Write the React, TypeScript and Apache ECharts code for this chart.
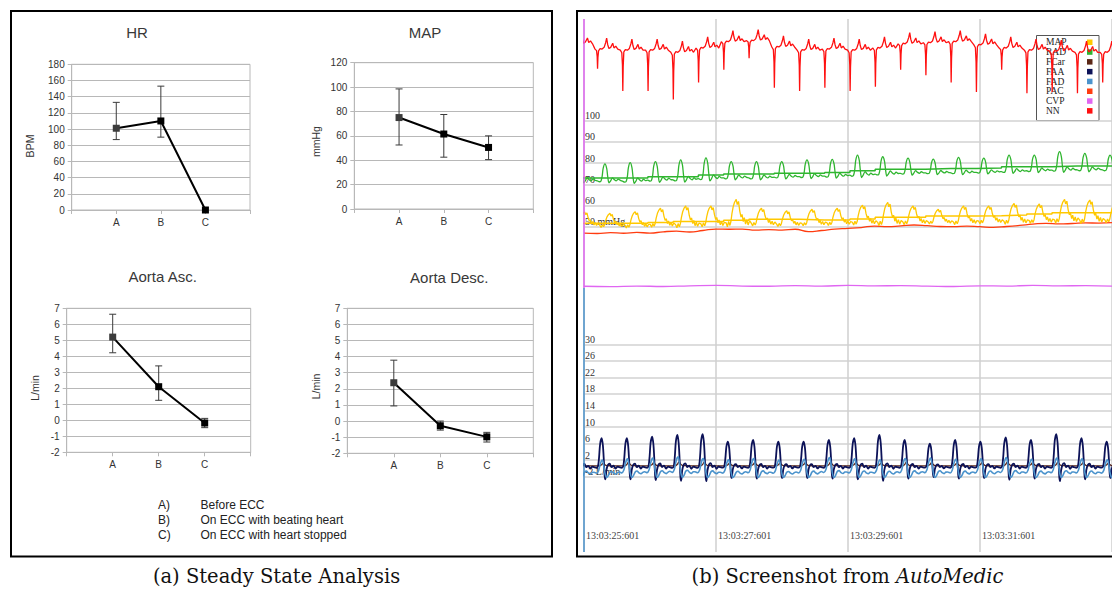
import { useEffect, useRef } from 'react';
import * as echarts from 'echarts';

// ---------- Steady state analysis (left panel) ----------
const CONDITIONS = ['A', 'B', 'C'];
const CONDITION_TEXT = ['Before ECC', 'On ECC with beating heart', 'On ECC with heart stopped'];

const HR_MEAN = [101, 110, 0];
const HR_LOW = [87, 90, 0];
const HR_HIGH = [133, 153, 0];

const MAP_SS_MEAN = [75, 61.5, 50.5];
const MAP_SS_LOW = [52.5, 42.5, 40.5];
const MAP_SS_HIGH = [98.5, 77.5, 60];

const ASC_MEAN = [5.2, 2.1, -0.17];
const ASC_LOW = [4.22, 1.25, -0.46];
const ASC_HIGH = [6.63, 3.4, 0.12];

const DESC_MEAN = [2.38, -0.29, -0.98];
const DESC_LOW = [0.94, -0.56, -1.3];
const DESC_HIGH = [3.78, 0.0, -0.7];

// ---------- AutoMedic monitor (right panel) ----------
const CLOCK_PREFIX = '13:03:';
const CLOCK_START_SEC = 25;
const CLOCK_MS = '601';
const BEAT = 0.3827; // seconds per cardiac cycle

const TRACE_NAMES = ['MAP', 'RAD', 'FCar', 'FAA', 'FAD', 'PAC', 'CVP', 'NN'];
const TRACE_COLORS: Record<string, string> = {
  MAP: '#ffc800',
  RAD: '#2fb52f',
  FCar: '#5a2616',
  FAA: '#0c1258',
  FAD: '#4b93cc',
  PAC: '#ff3c10',
  CVP: '#e066f2',
  NN: '#ff1010',
};

// NN (ECG derived): start of first cycle, baseline, R-dip depth per cycle
const NN_START = -0.2156;
const NN_BASE = [136, 133.5, 133, 133, 132, 134, 137, 137.5, 134.5, 133, 133.5, 133, 134, 136, 136.5, 137, 135.5, 134, 133, 132.5, 132, 132];
const NN_DEPTH = [19, 9, 19, 19, 22, 16, 13, 8, 19, 19, 18, 19, 18, 12, 15, 19, 22, 10, 20, 19, 19, 14];
const NN_WAVE_HEIGHT = 5.5;
// [phase, dip component, wave component]
const NN_SHAPE: [number, number, number][] = [
  [0.0, 0, 0.05], [0.06, -0.05, 0], [0.085, -0.35, 0], [0.1, -1, 0], [0.115, -0.4, 0],
  [0.14, 0, -0.1], [0.2, 0, 0.1], [0.28, 0, 0.05], [0.36, 0, 0.2], [0.42, 0, 0.6],
  [0.46, 0, 1], [0.5, 0, 0.45], [0.55, 0, 0.1], [0.62, 0, 0.2], [0.7, 0, 0.55],
  [0.75, 0, 0.15], [0.82, 0, 0.3], [0.9, 0, 0.05],
];

// RAD (radial artery pressure, mmHg)
const RAD_START = -0.1805;
const RAD_PEAK = [80.0, 79.6, 80.2, 80.7, 81.5, 82.5, 80.7, 80.7, 80.7, 81.5, 81.8, 83.8, 83.0, 82.3, 81.9, 82.7, 82.3, 83.8, 83.8, 85.4, 84.6, 83.8];
const RAD_TROUGH = [71.2, 71.2, 71.0, 71.5, 71.6, 72.2, 72.6, 72.6, 73.0, 73.2, 73.4, 73.8, 74.4, 74.8, 75.0, 75.0, 75.3, 75.6, 76.0, 76.2, 76.4, 76.4];
const RAD_MEAN = [73.0, 73.0, 73.0, 73.6, 73.6, 74.4, 74.8, 74.8, 75.2, 75.2, 75.6, 76.4, 77.1, 77.1, 77.4, 77.4, 77.7, 78.3, 78.3, 78.6, 78.6, 78.6];
const RAD_SHAPE: [number, number][] = [
  [0, 0.05], [0.08, 0], [0.14, 0.03], [0.19, 0.3], [0.23, 0.75], [0.3, 1], [0.37, 0.75],
  [0.41, 0.3], [0.46, -0.06], [0.52, 0.04], [0.6, 0.22], [0.67, 0.12], [0.75, 0.05],
  [0.83, 0.15], [0.91, 0.08],
];

// MAP (mmHg)
const MAP_START = -0.1428;
const MAP_PEAK = [57.0, 56.3, 57.1, 58.7, 59.8, 59.8, 62.9, 58.7, 57.5, 58.2, 58.7, 60.2, 61.5, 59.8, 58.2, 59.8, 59.8, 61.0, 60.7, 62.9, 62.6, 61.0];
const MAP_TROUGH = [50.5, 50.0, 49.8, 50.2, 50.0, 50.4, 50.6, 50.8, 50.5, 50.8, 51.0, 51.2, 51.0, 51.4, 51.6, 51.4, 51.8, 51.6, 52.0, 52.2, 52.0, 52.3];
const MAP_MEAN = [51.6, 51.6, 51.6, 52.0, 52.4, 52.4, 53.0, 53.5, 53.5, 53.2, 53.2, 53.6, 54.4, 54.4, 55.0, 55.0, 55.2, 55.5, 56.0, 56.6, 56.6, 56.6];
const MAP_SHAPE: [number, number][] = [
  [0, 0.1], [0.05, -0.05], [0.1, 0.15], [0.15, 0], [0.19, 0.15], [0.23, 0.45], [0.28, 0.72],
  [0.33, 0.88], [0.4, 1], [0.44, 0.8], [0.49, 0.92], [0.54, 0.55], [0.59, 0.32], [0.63, 0.42],
  [0.68, 0.15], [0.72, 0.3], [0.77, 0.05], [0.82, 0.22], [0.87, 0.02], [0.93, 0.18],
];

// PAC (mmHg), sampled every 0.2 s
const PAC_STEP = 0.2;
const PAC = [47.0, 46.8, 47.2, 46.9, 47.3, 47.0, 47.6, 47.9, 47.5, 48.2, 48.9, 48.8, 48.9, 48.4, 48.6, 48.4, 48.8, 47.7, 48.2, 48.9, 49.2, 49.6, 50.3, 50.0, 50.4, 50.8, 50.5, 50.1, 50.0, 50.3, 50.0, 49.7, 50.1, 50.6, 51.2, 51.6, 51.3, 51.5, 51.8, 51.7, 51.9];

// CVP, sampled every 0.4 s
const CVP_STEP = 0.4;
const CVP = [21.9, 21.7, 22.0, 21.8, 22.1, 22.3, 22.0, 21.9, 22.2, 22.0, 22.3, 22.1, 22.2, 22.0, 21.8, 22.1, 22.0, 22.3, 22.1, 22.2, 22.0];

// Flows (L/min)
const FLOW_START = -0.2305;
const FAA_BASE = 0.3;
const FAA_PEAK = [7.0, 7.3, 7.3, 7.7, 8.1, 8.3, 6.5, 6.9, 6.5, 6.5, 6.9, 7.3, 8.1, 6.9, 6.0, 6.9, 6.5, 7.5, 6.9, 8.3, 7.3, 6.5];
const FAA_SHAPE: [number, number][] = [
  [0, 0], [0.1, -0.02], [0.16, 0.05], [0.2, 0.35], [0.24, 0.8], [0.3, 1], [0.35, 0.75],
  [0.39, 0.2], [0.42, -0.3], [0.45, -0.42], [0.49, -0.1], [0.55, 0.08], [0.62, 0.12],
  [0.69, 0], [0.77, 0.05], [0.85, -0.05], [0.93, 0.02],
];
const FAD_TROUGH = -2.2;
const FAD_PEAK = [2.2, 2.0, 2.3, 2.5, 2.8, 2.4, 2.1, 2.4, 2.0, 2.2, 2.6, 2.3, 2.1, 2.4, 2.5, 2.2, 2.3, 2.6, 2.2, 2.5, 2.3, 2.1];
const FAD_SHAPE: [number, number][] = [
  [0, 0.3], [0.1, 0.25], [0.18, 0.4], [0.24, 0.75], [0.29, 0.95], [0.33, 1], [0.38, 0.7],
  [0.44, 0.2], [0.5, 0], [0.56, 0.1], [0.63, 0.3], [0.7, 0.35], [0.78, 0.25], [0.86, 0.2],
  [0.93, 0.28],
];
const FCAR_BASE = 0.6;
const FCAR_PEAK = [1.4, 1.3, 1.5, 1.4, 1.6, 1.5, 1.3, 1.4, 1.3, 1.4, 1.5, 1.4, 1.3, 1.5, 1.4, 1.3, 1.4, 1.6, 1.4, 1.5, 1.4, 1.3];
const FCAR_SHAPE: [number, number][] = [
  [0, 0], [0.2, 0], [0.3, 0.4], [0.36, 1], [0.42, 0.5], [0.5, 0.1], [0.7, 0.05], [0.85, 0],
];

type Pt = [number, number];

function buildWave(start: number, shape: [number, number][], bases: number | number[], peaks: number[]): Pt[] {
  const pts: Pt[] = [];
  const baseAt = (k: number) => (Array.isArray(bases) ? bases[k] : bases);
  peaks.forEach((peak, k) => {
    const s = start + k * BEAT;
    const b = baseAt(k);
    shape.forEach(([ph, v]) => pts.push([s + ph * BEAT, b + (peak - b) * v]));
  });
  const last = peaks.length - 1;
  pts.push([start + peaks.length * BEAT, baseAt(last) + (peaks[last] - baseAt(last)) * shape[0][1]]);
  return pts;
}

function buildEcg(): Pt[] {
  const pts: Pt[] = [];
  NN_DEPTH.forEach((depth, k) => {
    const s = NN_START + k * BEAT;
    NN_SHAPE.forEach(([ph, dip, wave]) => pts.push([s + ph * BEAT, NN_BASE[k] + depth * dip + NN_WAVE_HEIGHT * wave]));
  });
  pts.push([NN_START + NN_DEPTH.length * BEAT, NN_BASE[NN_BASE.length - 1]]);
  return pts;
}

function buildSteps(start: number, values: number[]): Pt[] {
  const pts: Pt[] = [];
  values.forEach((v, k) => {
    pts.push([start + k * BEAT, v], [start + (k + 1) * BEAT, v]);
  });
  return pts;
}

const sampled = (values: number[], step: number): Pt[] => values.map((v, i) => [i * step, v]);

const SANS = "'Liberation Sans', Arial, sans-serif";
const SERIF = "'Liberation Serif', 'DejaVu Serif', serif";
const CAPTION_FONT = "'DejaVu Serif', serif";
const GRID_GREY = '#b8b8b8';

interface Panel {
  title: string;
  unit: string;
  mean: number[];
  low: number[];
  high: number[];
  min: number;
  max: number;
  step: number;
  grid: { left: number; top: number; width: number; height: number };
  titleAt: [number, number];
  unitAt: [number, number];
}

const PANELS: Panel[] = [
  { title: 'HR', unit: 'BPM', mean: HR_MEAN, low: HR_LOW, high: HR_HIGH, min: 0, max: 180, step: 20,
    grid: { left: 71.7, top: 64.3, width: 178.3, height: 145.7 }, titleAt: [137, 32], unitAt: [30, 146] },
  { title: 'MAP', unit: 'mmHg', mean: MAP_SS_MEAN, low: MAP_SS_LOW, high: MAP_SS_HIGH, min: 0, max: 120, step: 20,
    grid: { left: 354.3, top: 62.7, width: 179, height: 146.3 }, titleAt: [425, 32], unitAt: [316, 141.5] },
  { title: 'Aorta Asc.', unit: 'L/min', mean: ASC_MEAN, low: ASC_LOW, high: ASC_HIGH, min: -2, max: 7, step: 1,
    grid: { left: 66.7, top: 308.3, width: 184, height: 144 }, titleAt: [162.7, 276.5], unitAt: [35, 388] },
  { title: 'Aorta Desc.', unit: 'L/min', mean: DESC_MEAN, low: DESC_LOW, high: DESC_HIGH, min: -2, max: 7, step: 1,
    grid: { left: 347.3, top: 308.3, width: 186, height: 145 }, titleAt: [449.3, 277.5], unitAt: [316, 386.5] },
];

// Monitor layout: pressure scale 2.12 px/mmHg, flow scale 4.1375 px/(L/min)
const MON_LEFT = 584;
const MON_WIDTH = 529.6;
const MON_T_MAX = 8;

function buildOption(): echarts.EChartsCoreOption {
  const grid: any[] = [];
  const xAxis: any[] = [];
  const yAxis: any[] = [];
  const series: any[] = [];
  const graphic: any[] = [];

  PANELS.forEach((p, i) => {
    grid.push({ ...p.grid, show: true, borderColor: GRID_GREY, borderWidth: 1, backgroundColor: 'transparent' });
    xAxis.push({
      gridIndex: i, type: 'value', min: 0, max: CONDITIONS.length + 1, interval: 1,
      axisLine: { onZero: false, lineStyle: { color: GRID_GREY } },
      axisTick: { show: true, length: 4, lineStyle: { color: GRID_GREY } },
      axisLabel: { formatter: (v: number) => CONDITIONS[v - 1] ?? '', color: '#333', fontSize: 10, fontFamily: SANS, margin: 7 },
      splitLine: { show: false },
    });
    yAxis.push({
      gridIndex: i, type: 'value', min: p.min, max: p.max, interval: p.step,
      axisLine: { show: true, lineStyle: { color: GRID_GREY } },
      axisTick: { show: true, length: 4, lineStyle: { color: GRID_GREY } },
      axisLabel: { color: '#333', fontSize: 10, fontFamily: SANS, margin: 7 },
      splitLine: { show: true, lineStyle: { color: GRID_GREY, width: 1 } },
    });
    series.push({
      type: 'custom', xAxisIndex: i, yAxisIndex: i, z: 2,
      data: CONDITIONS.map((_, j) => [j + 1, p.low[j], p.high[j]]),
      encode: { x: 0, y: [1, 2] },
      renderItem: (_params: any, api: any) => {
        const x = api.value(0);
        const lo = api.coord([x, api.value(1)]);
        const hi = api.coord([x, api.value(2)]);
        if (Math.abs(lo[1] - hi[1]) < 0.5) return { type: 'group', children: [] };
        const w = 3.5;
        const st = { stroke: '#3a3a3a', lineWidth: 1 };
        return {
          type: 'group',
          children: [
            { type: 'line', shape: { x1: lo[0], y1: lo[1], x2: hi[0], y2: hi[1] }, style: st },
            { type: 'line', shape: { x1: lo[0] - w, y1: lo[1], x2: lo[0] + w, y2: lo[1] }, style: st },
            { type: 'line', shape: { x1: hi[0] - w, y1: hi[1], x2: hi[0] + w, y2: hi[1] }, style: st },
          ],
        };
      },
    });
    series.push({
      type: 'line', name: p.title, xAxisIndex: i, yAxisIndex: i, z: 3,
      data: p.mean.map((v, j) => ({ value: [j + 1, v], itemStyle: { color: j === 0 ? '#3c3c3c' : '#000' } })),
      symbol: 'rect', symbolSize: 7, showSymbol: true,
      lineStyle: { color: '#000', width: 2 },
      itemStyle: { color: '#000' },
    });
    graphic.push({
      type: 'text', x: p.titleAt[0], y: p.titleAt[1],
      style: { text: p.title, fontSize: 15, fontFamily: SANS, fill: '#383838', textAlign: 'center', textVerticalAlign: 'middle' },
    });
    graphic.push({
      type: 'text', x: p.unitAt[0], y: p.unitAt[1], rotation: Math.PI / 2,
      style: { text: p.unit, fontSize: 10.5, fontFamily: SANS, fill: '#333', textAlign: 'center', textVerticalAlign: 'middle' },
    });
  });

  // Condition key
  CONDITIONS.forEach((c, j) => {
    const y = 504.5 + j * 15.2;
    graphic.push({ type: 'text', x: 158, y, style: { text: c + ')', fontSize: 12, fontFamily: SANS, fill: '#222', textVerticalAlign: 'middle' } });
    graphic.push({ type: 'text', x: 200.5, y, style: { text: CONDITION_TEXT[j], fontSize: 12, fontFamily: SANS, fill: '#222', textVerticalAlign: 'middle' } });
  });

  // ---- Monitor grids ----
  const mon = (top: number, height: number) => ({ left: MON_LEFT, width: MON_WIDTH, top, height });
  const G_FRAME = grid.length; grid.push(mon(19, 533));
  const G_P = grid.length; grid.push(mon(120.7 - 48 * 2.12, 148 * 2.12));
  const G_PG = grid.length; grid.push(mon(120.7, 106));
  const G_F = grid.length; grid.push(mon(344.3, 40 * 4.1375));
  const G_FG = grid.length; grid.push(mon(344.3, 132.4));

  const hiddenX = (g: number) => ({ gridIndex: g, type: 'value', min: 0, max: MON_T_MAX, show: false });
  xAxis.push({
    gridIndex: G_FRAME, type: 'value', min: 0, max: MON_T_MAX, interval: 2,
    axisLine: { show: false }, axisTick: { show: false },
    axisLabel: {
      inside: true, align: 'left', verticalAlign: 'bottom', margin: 12, padding: [0, 0, 0, 2],
      fontSize: 10, fontFamily: SERIF, color: '#444', showMaxLabel: false,
      formatter: (v: number) => (v >= MON_T_MAX ? '' : `${CLOCK_PREFIX}${CLOCK_START_SEC + v}:${CLOCK_MS}`),
    },
    splitLine: { show: true, lineStyle: { color: '#cfcfcf', width: 1.5 } },
  });
  xAxis.push(hiddenX(G_P), hiddenX(G_PG), hiddenX(G_F), hiddenX(G_FG));

  const monLabel = {
    inside: true, align: 'left', verticalAlign: 'bottom', margin: 1,
    fontSize: 10, fontFamily: SERIF, color: '#333',
  };
  yAxis.push({ gridIndex: G_FRAME, type: 'value', min: 0, max: 1, show: false });
  yAxis.push({ gridIndex: G_P, type: 'value', min: 0, max: 148, show: false });
  yAxis.push({
    gridIndex: G_PG, type: 'value', min: 50, max: 100, interval: 10,
    axisLine: { show: false }, axisTick: { show: false },
    axisLabel: { ...monLabel, formatter: (v: number) => (v === 50 ? '50 mmHg' : String(v)) },
    splitLine: { show: true, lineStyle: { color: '#d2d2d2', width: 1.5 } },
  });
  yAxis.push({ gridIndex: G_F, type: 'value', min: -10, max: 30, show: false });
  yAxis.push({
    gridIndex: G_FG, type: 'value', min: -2, max: 30, interval: 4,
    axisLine: { show: false }, axisTick: { show: false },
    axisLabel: { ...monLabel, formatter: (v: number) => (v === -2 ? '-2 L/min' : String(v)) },
    splitLine: { show: true, lineStyle: { color: '#d2d2d2', width: 1.5 } },
  });

  const trace = (name: string, g: number, data: Pt[], width = 1.3, smooth: number | boolean = false, z = 3) => ({
    type: 'line', name, xAxisIndex: g, yAxisIndex: g, data, showSymbol: false, symbol: 'none',
    smooth, z, lineStyle: { color: TRACE_COLORS[name], width }, itemStyle: { color: TRACE_COLORS[name] },
  });

  series.push(trace('CVP', G_P, sampled(CVP, CVP_STEP), 1.3, 0.5));
  series.push(trace('PAC', G_P, sampled(PAC, PAC_STEP), 1.3, 0.5));
  series.push(trace('MAP', G_P, buildWave(MAP_START, MAP_SHAPE, MAP_TROUGH, MAP_PEAK), 1.3));
  series.push(trace('MAP', G_P, buildSteps(RAD_START, MAP_MEAN), 1.5));
  series.push(trace('RAD', G_P, buildWave(RAD_START, RAD_SHAPE, RAD_TROUGH, RAD_PEAK), 1.3, 0.3));
  series.push(trace('RAD', G_P, buildSteps(RAD_START, RAD_MEAN), 1.5));
  series.push(trace('NN', G_P, buildEcg(), 1.3));
  series.push(trace('FCar', G_F, buildWave(FLOW_START, FCAR_SHAPE, FCAR_BASE, FCAR_PEAK), 1.3, 0.3));
  series.push(trace('FAA', G_F, buildWave(FLOW_START, FAA_SHAPE, FAA_BASE, FAA_PEAK), 1.8, 0.3));
  series.push(trace('FAD', G_F, buildWave(FLOW_START, FAD_SHAPE, FAD_TROUGH, FAD_PEAK), 1.6, 0.3));

  // Monitor left axis strip (pressure section / flow section)
  graphic.push({ type: 'line', z: 50, shape: { x1: MON_LEFT, y1: 19, x2: MON_LEFT, y2: 288 }, style: { stroke: TRACE_COLORS.CVP, lineWidth: 1.5 } });
  graphic.push({ type: 'line', z: 50, shape: { x1: MON_LEFT, y1: 288, x2: MON_LEFT, y2: 552 }, style: { stroke: TRACE_COLORS.FAD, lineWidth: 1.5 } });

  // Monitor legend
  const legendChildren: any[] = [
    { type: 'rect', shape: { x: 1036.5, y: 35.5, width: 62.5, height: 85 }, style: { fill: '#fff', stroke: '#555', lineWidth: 1 } },
  ];
  TRACE_NAMES.forEach((n, j) => {
    const y = 42.3 + j * 9.8;
    legendChildren.push({ type: 'text', x: 1046, y, style: { text: n, fontSize: 9.5, fontFamily: SERIF, fill: '#222', textVerticalAlign: 'middle' } });
    legendChildren.push({ type: 'rect', shape: { x: 1087, y: y - 2.8, width: 5.5, height: 5.5 }, style: { fill: TRACE_COLORS[n] } });
  });
  graphic.push({ type: 'group', z: 60, children: legendChildren });

  // Panel frames
  graphic.push({ type: 'rect', z: 70, shape: { x: 11, y: 11, width: 541, height: 545.5 }, style: { fill: 'none', stroke: '#000', lineWidth: 2 } });
  graphic.push({ type: 'rect', z: 70, shape: { x: 577, y: 11, width: 560, height: 545.5 }, style: { fill: 'none', stroke: '#000', lineWidth: 2 } });

  // Captions
  graphic.push({
    type: 'text', x: 276.5, y: 576,
    style: { text: '(a) Steady State Analysis', fontSize: 19.5, fontFamily: CAPTION_FONT, fill: '#111', textAlign: 'center', textVerticalAlign: 'middle' },
  });
  graphic.push({
    type: 'text', x: 847.5, y: 576,
    style: {
      text: '{n|(b) Screenshot from }{i|AutoMedic}', textAlign: 'center', textVerticalAlign: 'middle',
      rich: {
        n: { fontSize: 19.5, fontFamily: CAPTION_FONT, fill: '#111', color: '#111' },
        i: { fontSize: 19.5, fontFamily: CAPTION_FONT, fontStyle: 'italic', fill: '#111', color: '#111' },
      },
    },
  });

  return { animation: false, backgroundColor: '#fff', grid, xAxis, yAxis, series, graphic };
}

export default function App() {
  const ref = useRef<HTMLDivElement>(null);
  useEffect(() => {
    if (!ref.current) return;
    const chart = echarts.init(ref.current, undefined, { renderer: 'svg' });
    chart.setOption(buildOption());
    return () => chart.dispose();
  }, []);
  return <div ref={ref} style={{ position: 'fixed', left: 0, top: 0, width: 1112, height: 590, background: '#fff' }} />;
}
